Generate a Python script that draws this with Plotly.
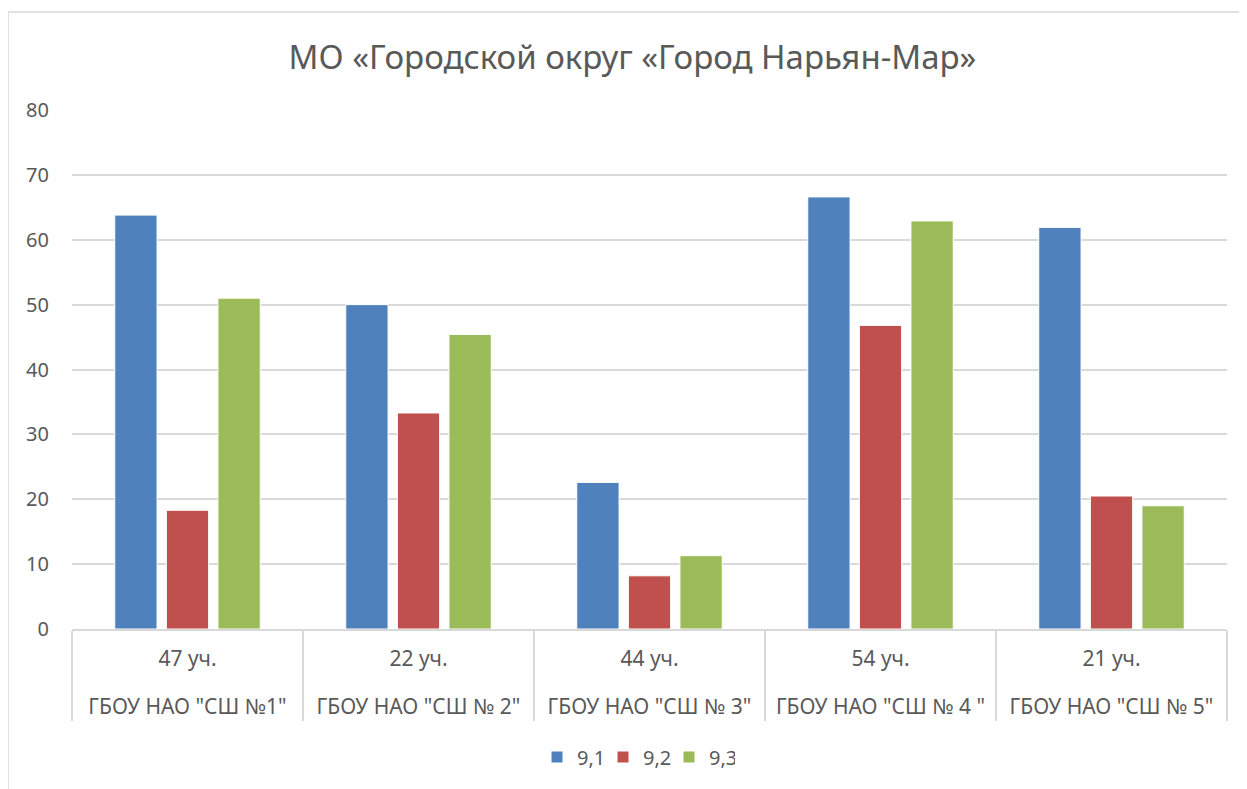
import plotly.graph_objects as go

# category labels (two levels on the x axis)
schools = ['ГБОУ НАО "СШ №1"', 'ГБОУ НАО "СШ № 2"', 'ГБОУ НАО "СШ № 3"',
           'ГБОУ НАО "СШ № 4 "', 'ГБОУ НАО "СШ № 5"']
pupils = ["47 уч.", "22 уч.", "44 уч.", "54 уч.", "21 уч."]

# series values
s91 = [63.8, 50.0, 22.6, 66.6, 61.9]
s92 = [18.3, 33.3, 8.2, 46.8, 20.5]
s93 = [51.0, 45.4, 11.3, 62.9, 19.0]

series_names = ["9,1", "9,2", "9,3"]
colors = ["#4F81BD", "#C0504D", "#9BBB59"]

font_name = "Noto Sans"
text_col = "#595959"
grid_col = "#D9D9D9"

# page has an 8px body margin, so the figure is drawn 8px in from the corner
W, H = 1239, 781
L, R, T, B = 64, 20, 102, 160
pw, ph = W - L - R, H - T - B

fig = go.Figure()
for name, vals, col in zip(series_names, [s91, s92, s93], colors):
    fig.add_trace(go.Bar(
        # extra line break pushes the school row down, as in the original
        x=[["<br>" + s for s in schools], pupils],
        y=vals,
        name=name,
        marker=dict(color=col, line=dict(color="white", width=1)),
    ))

fig.update_layout(
    width=W,
    height=H,
    barmode="group",
    bargap=0.33,
    bargroupgap=0.18,
    paper_bgcolor="white",
    plot_bgcolor="white",
    margin=dict(l=L, r=R, t=T, b=B),
    font=dict(family=font_name, color=text_col, size=20),
    title=dict(
        text="МО «Городской округ «Город Нарьян-Мар»",
        font=dict(family=font_name, size=33, color=text_col),
        x=624.5 / W, xanchor="center",
        y=1 - 49 / H, yanchor="middle", yref="container",
    ),
    legend=dict(
        orientation="h",
        x=(636 - 8 - L) / pw, xanchor="center",
        y=(621 - 749) / ph, yanchor="middle",
        font=dict(size=20, color=text_col),
        itemwidth=30,
        entrywidth=21, entrywidthmode="pixels",
    ),
    xaxis=dict(
        type="multicategory",
        showline=True, linecolor=grid_col, linewidth=2,
        showdividers=True, dividercolor=grid_col, dividerwidth=2,
        tickfont=dict(size=21, color=text_col),
        ticklabelstandoff=10,
        showgrid=False,
    ),
    yaxis=dict(
        range=[0, 80], dtick=10,
        showgrid=True, gridcolor=grid_col, gridwidth=2,
        zeroline=False,
        tickfont=dict(size=20, color=text_col),
        ticklabelstandoff=22,
    ),
    shapes=[
        # chart area border (left and top edges visible)
        dict(type="line", xref="paper", yref="paper",
             x0=-L / pw, x1=-L / pw, y0=-2, y1=(ph + T - 4) / ph,
             line=dict(color=grid_col, width=1.5)),
        dict(type="line", xref="paper", yref="paper",
             x0=-L / pw, x1=2, y0=(ph + T - 4) / ph, y1=(ph + T - 4) / ph,
             line=dict(color=grid_col, width=1.5)),
    ],
)

fig.write_html("out.html")
